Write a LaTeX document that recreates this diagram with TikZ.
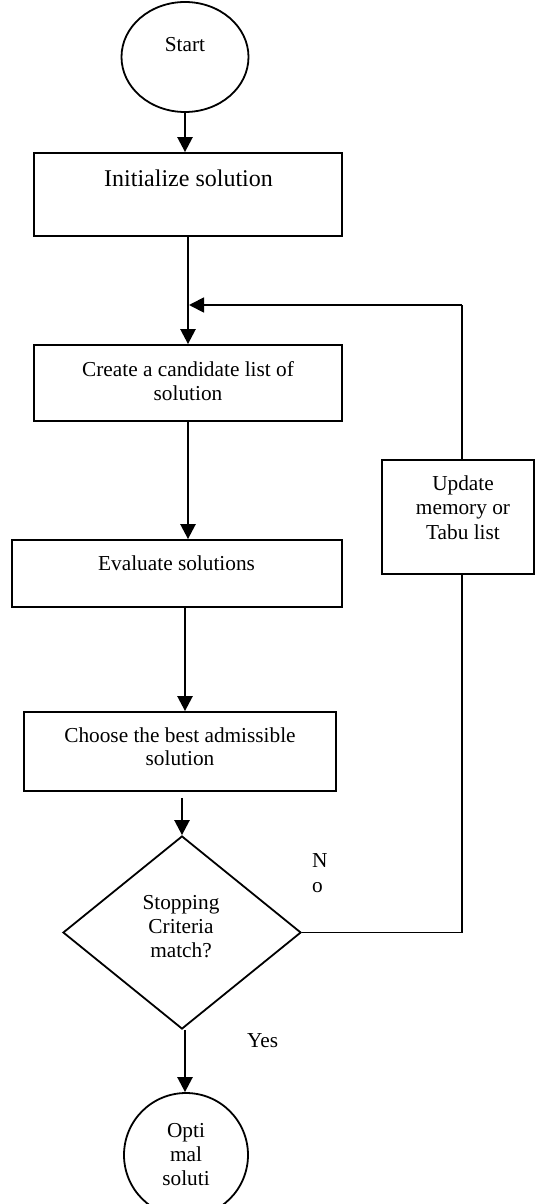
\documentclass[tikz,border=0pt]{standalone}
\usepackage{fontspec}
\setmainfont{Liberation Serif}
\usetikzlibrary{shapes.geometric,arrows.meta}
\begin{document}
\begin{tikzpicture}[x=1pt,y=-1pt,
  shapebox/.style={draw,line width=1.8pt,inner sep=0pt,rectangle},
  txt/.style={font=\fontsize{21.3}{24}\selectfont,inner sep=0pt,anchor=base},
  mtxt/.style={txt,align=flush center,text width=#1},
  flow/.style={line width=2.5pt,-{Triangle[width=15pt,length=15pt]}},
  link/.style={line width=1.8pt}]
\useasboundingbox (0,0) rectangle (535,1204);
% shapes
\node[draw,ellipse,line width=1.8pt,minimum width=127pt,minimum height=110pt,inner sep=0pt] (start) at (185,57) {};
\node[shapebox,minimum width=308pt,minimum height=83pt] (init) at (188,194.5) {};
\node[shapebox,minimum width=308pt,minimum height=76pt] (create) at (188,383) {};
\node[shapebox,minimum width=330pt,minimum height=67pt] (eval) at (177,573.5) {};
\node[shapebox,minimum width=312pt,minimum height=79pt] (choose) at (180,751.5) {};
\node[shapebox,minimum width=152pt,minimum height=114pt] (update) at (458,517) {};
\node[draw,diamond,line width=1.8pt,minimum width=238pt,minimum height=193pt,inner sep=0pt] (stop) at (182,932.5) {};
\node[draw,circle,line width=1.8pt,minimum size=124pt,inner sep=0pt] (opt) at (186,1155) {};
% texts
\node[txt] (tstart) at (185,52) {Start};
\node[txt,anchor=base west,font=\fontsize{24}{28}\selectfont] (tinit) at (104,186) {Initialize solution};
\node[mtxt=260pt] (tcreate) at (188,376) {Create a candidate list of\\solution};
\node[txt,anchor=base west] (teval) at (98,570) {Evaluate solutions};
\node[mtxt=280pt,font=\fontsize{21.3}{23}\selectfont] (tchoose) at (180,742) {Choose the best admissible\\solution};
\node[mtxt=140pt,font=\fontsize{21.3}{24.5}\selectfont] (tupdate) at (463,490) {Update\\memory or\\Tabu list};
\node[mtxt=120pt] (tstop) at (181,909) {Stopping\\Criteria\\match?};
\node[mtxt=100pt] (topt) at (186,1137) {Opti\\mal\\soluti};
\node[txt,anchor=base west] (tyes) at (247,1047) {Yes};
\node[txt,anchor=base west] (tn) at (312,867) {N};
\node[txt,anchor=base west] (to) at (312,892) {o};
% connectors
\coordinate (fb) at (462,305);
\coordinate (fbtip) at (189,305);
\coordinate (nocorner) at (462,932.5);
\draw[flow] (start.south) -- (start.south |- init.north);
\draw[flow] (init.south) -- (create.north);
\draw[flow] (create.south) -- (eval.north -| create.south);
\draw[flow] (eval.south -| 185,0) -- (choose.north -| 185,0);
\draw[flow,shorten <=6pt] (choose.south -| 182,0) -- (stop.north);
\draw[flow] (stop.south -| 185,0) -- (opt.north -| 185,0);
\draw[link] (update.north -| fb) -- (fb);
\draw[flow,line width=1.8pt] (fb) -- (fbtip);
\draw[link] (stop.east) -- (nocorner) -- (update.south -| nocorner);
\end{tikzpicture}
\end{document}
